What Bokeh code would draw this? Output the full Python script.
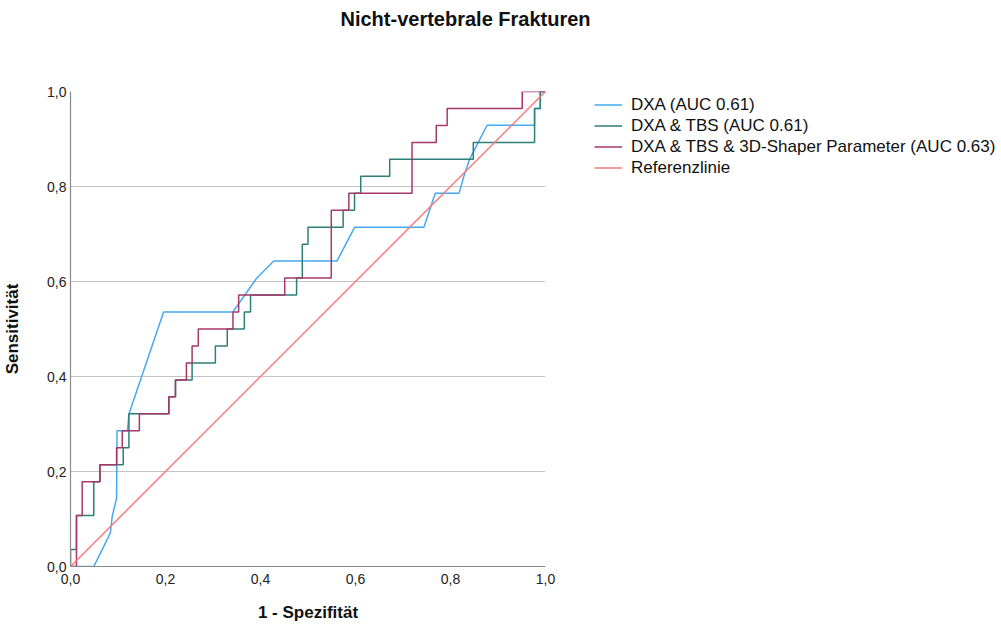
from bokeh.plotting import figure
from bokeh.models import Legend, LegendItem, Title, CustomJSTickFormatter, FixedTicker, Range1d
from bokeh.embed import file_html
from bokeh.resources import INLINE

N_POS = 28  # number of positive cases (sensitivity steps of 1/28)

title_text = "Nicht-vertebrale Frakturen"
x_label = "1 - Spezifität"
y_label = "Sensitivität"
series_names = [
    "DXA (AUC 0.61)",
    "DXA & TBS (AUC 0.61)",
    "DXA & TBS & 3D-Shaper Parameter (AUC 0.63)",
    "Referenzlinie",
]
ticks = [0.0, 0.2, 0.4, 0.6, 0.8, 1.0]

dxa_x = [0, 0.049, 0.067, 0.084, 0.088, 0.097, 0.098, 0.12, 0.123, 0.196, 0.342, 0.392,
         0.428, 0.561, 0.598, 0.744, 0.768, 0.818, 0.828, 0.84, 0.877, 0.977, 0.977,
         0.989, 0.989, 1.0]
dxa_y = [0, 0, 0.036, 0.071, 0.107, 0.143, 0.286, 0.286, 0.321, 0.536, 0.536, 0.607,
         0.643, 0.643, 0.714, 0.714, 0.786, 0.786, 0.821, 0.857, 0.929, 0.929, 0.964,
         0.964, 1.0, 1.0]

tbs_x = [0, 0, 0.0126, 0.0126, 0.049, 0.049, 0.062, 0.062, 0.111, 0.111, 0.123, 0.123,
         0.207, 0.207, 0.221, 0.221, 0.256, 0.256, 0.305, 0.305, 0.33, 0.33, 0.366,
         0.366, 0.379, 0.379, 0.476, 0.476, 0.488, 0.488, 0.50, 0.50, 0.574, 0.574,
         0.598, 0.598, 0.611, 0.611, 0.672, 0.672, 0.848, 0.848, 0.977, 0.977, 0.989,
         0.989, 1.0]
tbs_k = [0, 1, 1, 3, 3, 5, 5, 6, 6, 7, 7, 9, 9, 10, 10, 11, 11, 12, 12, 13, 13, 14, 14,
         15, 15, 16, 16, 17, 17, 19, 19, 20, 20, 21, 21, 22, 22, 23, 23, 24, 24, 25, 25,
         27, 27, 28, 28]

shp_x = [0, 0.0126, 0.0126, 0.0246, 0.0246, 0.062, 0.062, 0.097, 0.097, 0.109, 0.109,
         0.145, 0.145, 0.207, 0.207, 0.221, 0.221, 0.244, 0.244, 0.256, 0.256, 0.269,
         0.269, 0.342, 0.342, 0.354, 0.354, 0.451, 0.451, 0.549, 0.549, 0.586, 0.586,
         0.719, 0.719, 0.77, 0.77, 0.793, 0.793, 0.951, 0.951, 1.0]
shp_k = [0, 0, 3, 3, 5, 5, 6, 6, 7, 7, 8, 8, 9, 9, 10, 10, 11, 11, 12, 12, 13, 13, 14,
         14, 15, 15, 16, 16, 17, 17, 21, 21, 22, 22, 25, 25, 26, 26, 27, 27, 28, 28]

ref_x = [0, 1]
ref_y = [0, 1]

tbs_y = [k / N_POS for k in tbs_k]
shp_y = [k / N_POS for k in shp_k]

colors = ["#45A8F2", "#2E7F79", "#A6376B", "#F87A7A"]
FONT = "Liberation Sans"

p = figure(frame_width=475, frame_height=475, output_backend="svg", toolbar_location=None,
           x_range=Range1d(0, 1), y_range=Range1d(0, 1),
           min_border_left=62, min_border_right=445, min_border_top=91, min_border_bottom=40,
           background_fill_color="white", border_fill_color="white")
p.outline_line_color = None

# spacer panel between the frame and the title (keeps the title near the top edge)
p.add_layout(Title(text=" ", text_font_size="1px", standoff=52), "above")
p.add_layout(Title(text=title_text, align="left", offset=270, vertical_align="top",
                   text_font=FONT, text_font_style="bold", text_font_size="20px",
                   text_color="#111111", standoff=10), "above")

r_dxa = p.line(dxa_x, dxa_y, line_color=colors[0], line_width=1.5)
r_tbs = p.line(tbs_x, tbs_y, line_color=colors[1], line_width=1.5)
r_shp = p.line(shp_x, shp_y, line_color=colors[2], line_width=1.5)
r_ref = p.line(ref_x, ref_y, line_color=colors[3], line_width=1.5)

fmt = CustomJSTickFormatter(code="return tick.toFixed(1).replace('.', ',');")
for ax in (p.xaxis[0], p.yaxis[0]):
    ax.ticker = FixedTicker(ticks=ticks)
    ax.formatter = fmt
    ax.major_tick_line_color = None
    ax.minor_tick_line_color = None
    ax.major_tick_out = 0
    ax.major_tick_in = 0
    ax.minor_tick_out = 0
    ax.minor_tick_in = 0
    ax.axis_line_color = "#8a8a8a"
    ax.axis_line_width = 1.2
    ax.major_label_text_font = FONT
    ax.major_label_text_font_size = "14px"
    ax.major_label_text_color = "#222222"
    ax.axis_label_text_font = FONT
    ax.axis_label_text_font_style = "bold"
    ax.axis_label_text_font_size = "17px"
    ax.axis_label_text_color = "#111111"

p.xaxis.axis_label = x_label
p.yaxis.axis_label = y_label
p.xaxis.major_label_standoff = 7
p.yaxis.major_label_standoff = 4
p.xaxis.axis_label_standoff = 16
p.yaxis.axis_label_standoff = 22

p.xgrid.grid_line_color = None
p.ygrid.grid_line_color = "#c4c4c4"
p.ygrid.grid_line_width = 1.2
p.ygrid.ticker = FixedTicker(ticks=ticks)

legend = Legend(items=[LegendItem(label=series_names[0], renderers=[r_dxa]),
                       LegendItem(label=series_names[1], renderers=[r_tbs]),
                       LegendItem(label=series_names[2], renderers=[r_shp]),
                       LegendItem(label=series_names[3], renderers=[r_ref])],
                location=(49, 388))
legend.border_line_color = None
legend.background_fill_alpha = 0
legend.padding = 0
legend.margin = 0
legend.spacing = 0
legend.label_height = 21
legend.glyph_height = 21
legend.glyph_width = 28
legend.label_standoff = 9
legend.label_text_font = FONT
legend.label_text_font_size = "17px"
legend.label_text_color = "#111111"
p.add_layout(legend, "right")

open("out.html", "w").write(file_html(p, INLINE))
